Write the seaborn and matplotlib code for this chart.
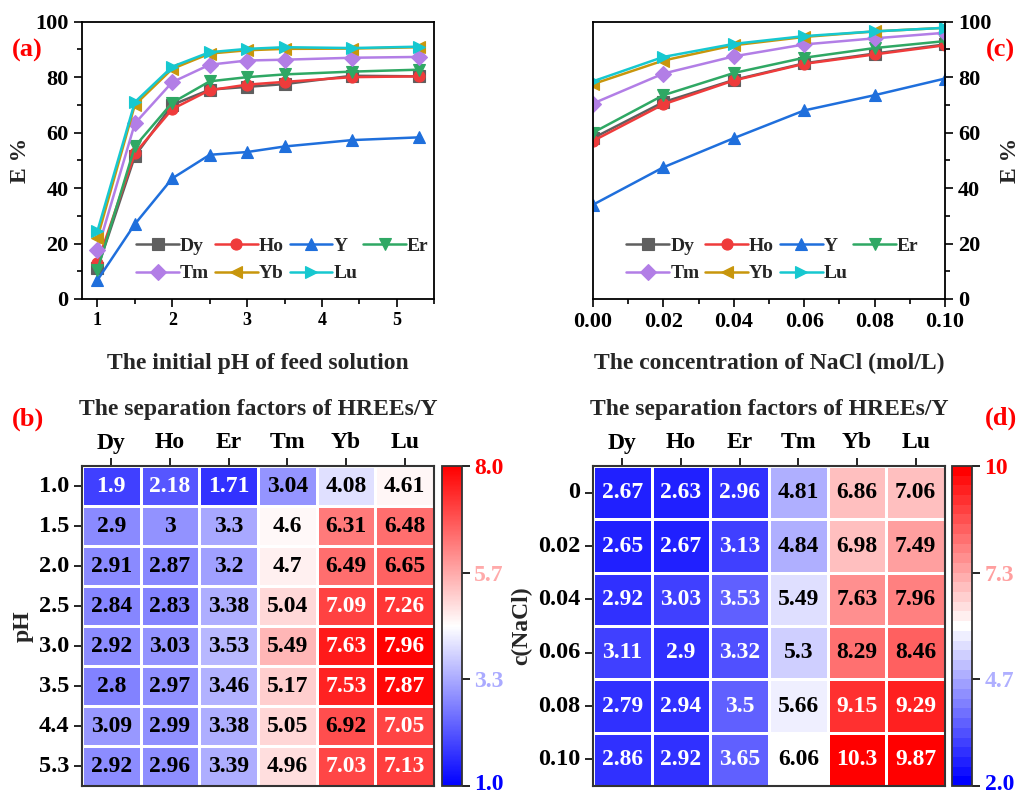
import numpy as np
import pandas as pd
import matplotlib
matplotlib.use("Agg")
import matplotlib.pyplot as plt
import matplotlib.transforms as mtransforms
from matplotlib.ticker import MultipleLocator
import seaborn as sns

# ---------------- data ----------------
elements = ["Dy", "Ho", "Y", "Er", "Tm", "Yb", "Lu"]

ph_values = [1.0, 1.5, 2.0, 2.5, 3.0, 3.5, 4.4, 5.3]
E_ph_Dy = [11.0, 51.5, 70.0, 75.5, 76.5, 77.5, 80.5, 80.3]
E_ph_Ho = [13.0, 52.5, 68.5, 75.3, 77.3, 78.3, 80.0, 80.3]
E_ph_Y = [6.8, 27.0, 43.5, 52.0, 53.0, 55.0, 57.3, 58.3]
E_ph_Er = [10.5, 55.0, 70.8, 78.5, 80.0, 81.0, 82.0, 82.7]
E_ph_Tm = [17.5, 63.3, 78.2, 84.5, 86.0, 86.3, 87.0, 87.3]
E_ph_Yb = [22.0, 70.0, 83.0, 88.5, 89.7, 90.2, 90.3, 90.8]
E_ph_Lu = [24.5, 71.0, 83.8, 89.0, 90.2, 90.8, 90.5, 91.0]

nacl_values = [0.00, 0.02, 0.04, 0.06, 0.08, 0.10]
E_na_Dy = [58.0, 71.0, 79.0, 85.0, 88.5, 91.8]
E_na_Ho = [57.0, 70.2, 78.8, 84.8, 88.2, 91.5]
E_na_Y = [34.0, 47.5, 58.0, 68.0, 73.5, 79.5]
E_na_Er = [60.0, 73.5, 81.5, 87.0, 90.5, 93.0]
E_na_Tm = [70.5, 81.3, 87.5, 91.8, 94.0, 96.0]
E_na_Yb = [77.5, 86.0, 91.5, 94.5, 96.5, 97.8]
E_na_Lu = [78.5, 87.3, 92.0, 94.8, 96.5, 97.8]

hree = ["Dy", "Ho", "Er", "Tm", "Yb", "Lu"]
ph_labels = ["1.0", "1.5", "2.0", "2.5", "3.0", "3.5", "4.4", "5.3"]
sf_ph = [
    [1.9, 2.18, 1.71, 3.04, 4.08, 4.61],
    [2.9, 3.0, 3.3, 4.6, 6.31, 6.48],
    [2.91, 2.87, 3.2, 4.7, 6.49, 6.65],
    [2.84, 2.83, 3.38, 5.04, 7.09, 7.26],
    [2.92, 3.03, 3.53, 5.49, 7.63, 7.96],
    [2.8, 2.97, 3.46, 5.17, 7.53, 7.87],
    [3.09, 2.99, 3.38, 5.05, 6.92, 7.05],
    [2.92, 2.96, 3.39, 4.96, 7.03, 7.13],
]
nacl_labels = ["0", "0.02", "0.04", "0.06", "0.08", "0.10"]
sf_nacl = [
    [2.67, 2.63, 2.96, 4.81, 6.86, 7.06],
    [2.65, 2.67, 3.13, 4.84, 6.98, 7.49],
    [2.92, 3.03, 3.53, 5.49, 7.63, 7.96],
    [3.11, 2.9, 3.32, 5.3, 8.29, 8.46],
    [2.79, 2.94, 3.5, 5.66, 9.15, 9.29],
    [2.86, 2.92, 3.65, 6.06, 10.3, 9.87],
]
cbar_b_ticks = [1.0, 10 / 3, 17 / 3, 8.0]
cbar_b_labels = ["1.0", "3.3", "5.7", "8.0"]
cbar_d_ticks = [2.0, 14 / 3, 22 / 3, 10.0]
cbar_d_labels = ["2.0", "4.7", "7.3", "10"]

# ---------------- style ----------------
sns.set_theme(style="ticks")
plt.rcParams["font.family"] = ["Liberation Serif", "DejaVu Serif"]
plt.rcParams["font.weight"] = "bold"
plt.rcParams["axes.labelweight"] = "bold"
plt.rcParams["axes.titleweight"] = "bold"
plt.rcParams["axes.linewidth"] = 1.3
plt.rcParams["xtick.color"] = "black"
plt.rcParams["ytick.color"] = "black"

colors = {"Dy": "#5f5f5f", "Ho": "#ef3b3b", "Y": "#1f6fdc", "Er": "#2fa864",
          "Tm": "#b27ee6", "Yb": "#c8960c", "Lu": "#16c8d0"}
markers = {"Dy": "s", "Ho": "o", "Y": "^", "Er": "v", "Tm": "D", "Yb": "<", "Lu": ">"}
legend_order = ["Dy", "Tm", "Ho", "Yb", "Y", "Lu", "Er"]  # column-major fill -> row-wise look

W, H = 1019, 795
fig = plt.figure(figsize=(W / 100, H / 100), dpi=100)


def frac(l, t, r, b):
    return [l / W, 1 - b / H, (r - l) / W, (b - t) / H]


ax_a = fig.add_axes(frac(81.7, 21.7, 434.3, 299))
ax_c = fig.add_axes(frac(593, 21.7, 945, 299))
ax_b = fig.add_axes(frac(82, 466, 434, 786))
cax_b = fig.add_axes(frac(441.7, 466, 461.7, 786))
ax_d = fig.add_axes(frac(593, 466, 945, 786))
cax_d = fig.add_axes(frac(952, 466, 972, 786))

ph_series = {"Dy": E_ph_Dy, "Ho": E_ph_Ho, "Y": E_ph_Y, "Er": E_ph_Er,
             "Tm": E_ph_Tm, "Yb": E_ph_Yb, "Lu": E_ph_Lu}
na_series = {"Dy": E_na_Dy, "Ho": E_na_Ho, "Y": E_na_Y, "Er": E_na_Er,
             "Tm": E_na_Tm, "Yb": E_na_Yb, "Lu": E_na_Lu}


def line_panel(ax, xs, series, leg_x):
    for el in elements:
        sns.lineplot(x=xs, y=series[el], ax=ax, color=colors[el], marker=markers[el],
                     markersize=8, markeredgewidth=0.8, markeredgecolor=colors[el],
                     linewidth=1.8, label=el)
    ax.set_ylim(0, 100)
    ax.yaxis.set_major_locator(MultipleLocator(20))
    ax.yaxis.set_minor_locator(MultipleLocator(10))
    ax.tick_params(axis="both", which="major", direction="out", length=6, width=1.2,
                   labelsize=16)
    ax.tick_params(axis="both", which="minor", direction="out", length=3.5, width=1.2)
    for s in ax.spines.values():
        s.set_visible(True)
        s.set_color("black")
        s.set_linewidth(1.3)
    handles, labels = ax.get_legend_handles_labels()
    hmap = dict(zip(labels, handles))
    ax.legend([hmap[k] for k in legend_order], legend_order, ncol=4, frameon=False,
              loc="lower left", bbox_to_anchor=(leg_x, 0.06),
              handlelength=2.2, handletextpad=0.05, columnspacing=0.3,
              labelspacing=0.5, borderaxespad=0, borderpad=0,
              prop={"size": 14, "weight": "bold"})


line_panel(ax_a, ph_values, ph_series, 0.155)
ax_a.set_xlim(0.79, 5.5)
ax_a.xaxis.set_major_locator(MultipleLocator(1))
ax_a.xaxis.set_minor_locator(MultipleLocator(0.5))
ax_a.set_xlabel("The initial pH of feed solution", fontsize=17, labelpad=17)
ax_a.set_ylabel("E %", fontsize=17, labelpad=3)
for lab in ax_a.get_xticklabels():
    lab.set_fontsize(13)

line_panel(ax_c, nacl_values, na_series, 0.095)
ax_c.set_xlim(0, 0.10)
ax_c.xaxis.set_major_locator(MultipleLocator(0.02))
ax_c.xaxis.set_minor_locator(MultipleLocator(0.01))
ax_c.xaxis.set_major_formatter(matplotlib.ticker.FormatStrFormatter("%.2f"))
ax_c.yaxis.tick_right()
ax_c.yaxis.set_label_position("right")
ax_c.set_ylabel("E %", fontsize=17, labelpad=6)
ax_c.set_xlabel("The concentration of NaCl (mol/L)", fontsize=17, labelpad=15)


def heat_panel(ax, cax, values, rows, vmin, vmax, cmap, ticks, ticklabels, white_fn, ylabel):
    df = pd.DataFrame(values, index=rows, columns=hree)
    sns.heatmap(df, ax=ax, cbar_ax=cax, cmap=cmap, vmin=vmin, vmax=vmax,
                linewidths=1.8, linecolor="white", annot=False)
    for i, r in enumerate(rows):
        for j, c in enumerate(hree):
            v = df.loc[r, c]
            ax.text(j + 0.5, i + 0.5, f"{v:g}", ha="center", va="center",
                    fontsize=17, fontweight="bold",
                    color="white" if white_fn(v) else "black")
    ax.xaxis.tick_top()
    ax.tick_params(axis="x", top=True, bottom=False, labeltop=True, labelbottom=False,
                   length=6, width=1.2, labelsize=17, pad=3, direction="out")
    ax.tick_params(axis="y", left=True, length=6, width=1.2, labelsize=17.5, pad=3,
                   direction="out")
    plt.setp(ax.get_yticklabels(), rotation=0)
    plt.setp(ax.get_xticklabels(), rotation=0)
    for s in ax.spines.values():
        s.set_visible(True)
        s.set_color("#333333")
        s.set_linewidth(1.5)
    ax.set_xlabel("")
    ax.set_ylabel(ylabel, fontsize=17, labelpad=4)
    ax.set_title("The separation factors of HREEs/Y", fontsize=17, fontweight="bold", pad=37)
    cb = ax.collections[0].colorbar
    cb.set_ticks(ticks)
    cb.set_ticklabels(ticklabels)
    cb.outline.set_visible(True)
    cb.outline.set_edgecolor("#333333")
    cb.outline.set_linewidth(1.3)
    cax.tick_params(length=6, width=1.2, labelsize=17, direction="out", pad=3)
    norm = plt.Normalize(vmin, vmax)
    cm = plt.get_cmap(cmap) if isinstance(cmap, str) else cmap
    for t, lab in zip(ticks, cax.get_yticklabels()):
        lab.set_color(cm(norm(t)))
        lab.set_fontweight("bold")
    bottom_lab = cax.yaxis.get_major_ticks()[0].label2
    bottom_lab.set_transform(bottom_lab.get_transform() +
                             mtransforms.ScaledTranslation(0, 4 / 100, fig.dpi_scale_trans))


heat_panel(ax_b, cax_b, sf_ph, ph_labels, 1.0, 8.0, "bwr", cbar_b_ticks, cbar_b_labels,
           lambda v: v < 2.5 or v > 7.0, "pH")
heat_panel(ax_d, cax_d, sf_nacl, nacl_labels, 2.0, 10.0, plt.get_cmap("bwr", 33),
           cbar_d_ticks, cbar_d_labels, lambda v: v < 4.0 or v > 9.0, "c(NaCl)")

red = "#ff0000"
fig.text(12 / W, 1 - 50 / H, "(a)", color=red, fontsize=19, fontweight="bold", va="center")
fig.text(12 / W, 1 - 419 / H, "(b)", color=red, fontsize=19, fontweight="bold", va="center")
fig.text(986 / W, 1 - 50 / H, "(c)", color=red, fontsize=19, fontweight="bold", va="center")
fig.text(985 / W, 1 - 418 / H, "(d)", color=red, fontsize=19, fontweight="bold", va="center")

fig.savefig("out.png", dpi=100)
